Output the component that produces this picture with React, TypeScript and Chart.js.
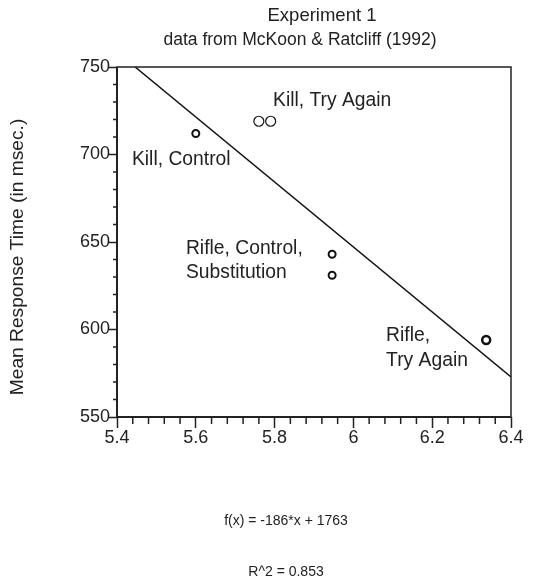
import React, { useEffect, useRef } from "react";
import { Chart, registerables } from "chart.js";

Chart.register(...registerables);

// ---- data ----
const titleLines = ["Experiment 1", "data from McKoon & Ratcliff (1992)"];
const yAxisTitle = "Mean Response Time (in msec.)";
const formulaText = "f(x) = -186*x + 1763";
const r2Text = "R^2 = 0.853";

const xTicks = [5.4, 5.6, 5.8, 6.0, 6.2, 6.4];
const xTickLabels = ["5.4", "5.6", "5.8", "6", "6.2", "6.4"];
const yTicks = [550, 600, 650, 700, 750];
const yTickLabels = ["550", "600", "650", "700", "750"];
const xMinorStep = 0.04;
const yMinorStep = 10;

const killControlX = [5.6];
const killControlY = [712];
const killTryAgainX = [5.76, 5.79];
const killTryAgainY = [719, 719];
const rifleControlX = [5.946, 5.946];
const rifleControlY = [643, 631];
const rifleTryAgainX = [6.337];
const rifleTryAgainY = [594];

const fitX = [5.446, 6.4];
const fitY = [750, 572.9];

const labelTexts = ["Kill, Try Again", "Kill, Control", "Rifle, Control,", "Substitution", "Rifle,", "Try Again"];
const labelX = [5.796, 5.438, 5.575, 5.575, 6.083, 6.083];
const labelY = [731, 697, 646.3, 632.3, 596.6, 582];

const FONT = '"Liberation Sans", Arial, Helvetica, sans-serif';
const INK = "#222";

const toPts = (xs: number[], ys: number[]) => xs.map((x, i) => ({ x, y: ys[i] }));

const decorPlugin = {
  id: "decor",
  afterDraw(chart: any) {
    const { ctx, chartArea } = chart;
    const xs = chart.scales.x;
    const ys = chart.scales.y;
    ctx.save();
    // frame
    ctx.strokeStyle = INK;
    ctx.lineWidth = 1.5;
    ctx.strokeRect(chartArea.left, chartArea.top, chartArea.right - chartArea.left, chartArea.bottom - chartArea.top);
    ctx.lineWidth = 2;
    ctx.beginPath();
    ctx.moveTo(chartArea.left, chartArea.top);
    ctx.lineTo(chartArea.left, chartArea.bottom);
    ctx.lineTo(chartArea.right, chartArea.bottom);
    ctx.stroke();
    // minor ticks
    ctx.lineWidth = 1.5;
    ctx.beginPath();
    const xMin = xTicks[0], xMax = xTicks[xTicks.length - 1];
    const nx = Math.round((xMax - xMin) / xMinorStep);
    for (let i = 1; i < nx; i++) {
      if (i % 5 === 0) continue;
      const px = xs.getPixelForValue(xMin + i * xMinorStep);
      ctx.moveTo(px, chartArea.bottom);
      ctx.lineTo(px, chartArea.bottom + 7);
    }
    const yMin = yTicks[0], yMax = yTicks[yTicks.length - 1];
    const ny = Math.round((yMax - yMin) / yMinorStep);
    for (let i = 1; i < ny; i++) {
      if (i % 5 === 0) continue;
      const py = ys.getPixelForValue(yMin + i * yMinorStep);
      ctx.moveTo(chartArea.left, py);
      ctx.lineTo(chartArea.left - 4, py);
    }
    ctx.stroke();

    ctx.fillStyle = INK;
    // point labels
    ctx.font = `19.3px ${FONT}`;
    ctx.textAlign = "left";
    ctx.textBaseline = "middle";
    labelTexts.forEach((t, i) => {
      ctx.fillText(t, xs.getPixelForValue(labelX[i]), ys.getPixelForValue(labelY[i]));
    });
    // title
    ctx.textAlign = "center";
    ctx.font = `18.5px ${FONT}`;
    ctx.fillText(titleLines[0], 322, 16);
    ctx.font = `17.5px ${FONT}`;
    ctx.fillText(titleLines[1], 300, 40);
    // y axis title
    ctx.save();
    ctx.translate(18, 257);
    ctx.rotate(-Math.PI / 2);
    ctx.font = `19.2px ${FONT}`;
    ctx.fillText(yAxisTitle, 0, 0);
    ctx.restore();
    // formulas
    ctx.font = `14px ${FONT}`;
    ctx.fillText(formulaText, 286, 521);
    ctx.fillText(r2Text, 286, 572);
    ctx.restore();
  },
};

export default function App() {
  const ref = useRef<HTMLCanvasElement | null>(null);
  useEffect(() => {
    if (!ref.current) return;
    const chart = new Chart(ref.current, {
      type: "scatter",
      data: {
        datasets: [
          {
            type: "line",
            label: "fit",
            data: toPts(fitX, fitY),
            borderColor: "#111",
            borderWidth: 1.5,
            pointRadius: 0,
            fill: false,
          } as any,
          {
            label: "Kill, Control",
            data: toPts(killControlX, killControlY),
            pointRadius: 3.5,
            borderWidth: 2,
            borderColor: "#111",
            backgroundColor: "rgba(0,0,0,0)",
          },
          {
            label: "Kill, Try Again",
            data: toPts(killTryAgainX, killTryAgainY),
            pointRadius: 5,
            borderWidth: 1.2,
            borderColor: "#111",
            backgroundColor: "rgba(0,0,0,0)",
          },
          {
            label: "Rifle, Control, Substitution",
            data: toPts(rifleControlX, rifleControlY),
            pointRadius: 3.5,
            borderWidth: 2,
            borderColor: "#111",
            backgroundColor: "rgba(0,0,0,0)",
          },
          {
            label: "Rifle, Try Again",
            data: toPts(rifleTryAgainX, rifleTryAgainY),
            pointRadius: 4,
            borderWidth: 2.5,
            borderColor: "#111",
            backgroundColor: "rgba(0,0,0,0)",
          },
        ],
      },
      options: {
        responsive: false,
        devicePixelRatio: 1,
        animation: false,
        layout: { padding: { left: 0, top: 67, right: 25, bottom: 0 } },
        plugins: { legend: { display: false }, tooltip: { enabled: false }, title: { display: false } },
        scales: {
          x: {
            type: "linear",
            min: xTicks[0],
            max: xTicks[xTicks.length - 1],
            afterBuildTicks: (s: any) => {
              s.ticks = xTicks.map((v) => ({ value: v }));
            },
            afterFit: (s: any) => {
              s.height = 169;
            },
            ticks: {
              callback: (_v: any, i: number) => xTickLabels[i],
              color: INK,
              font: { family: FONT, size: 18 },
              padding: -1,
              maxRotation: 0,
              autoSkip: false,
            },
            grid: { display: true, drawOnChartArea: false, tickLength: 11, tickColor: INK, tickWidth: 1.5 },
            border: { display: false },
          },
          y: {
            type: "linear",
            min: yTicks[0],
            max: yTicks[yTicks.length - 1],
            afterBuildTicks: (s: any) => {
              s.ticks = yTicks.map((v) => ({ value: v }));
            },
            afterFit: (s: any) => {
              s.width = 117;
            },
            ticks: {
              callback: (_v: any, i: number) => yTickLabels[i],
              color: INK,
              font: { family: FONT, size: 18 },
              padding: -1,
              autoSkip: false,
            },
            grid: { display: true, drawOnChartArea: false, tickLength: 8, tickColor: INK, tickWidth: 1.5 },
            border: { display: false },
          },
        },
      },
      plugins: [decorPlugin],
    });
    return () => chart.destroy();
  }, []);
  return (
    <div style={{ position: "absolute", left: 0, top: 0, width: 536, height: 586, background: "#fff" }}>
      <canvas ref={ref} width={536} height={586} />
    </div>
  );
}
